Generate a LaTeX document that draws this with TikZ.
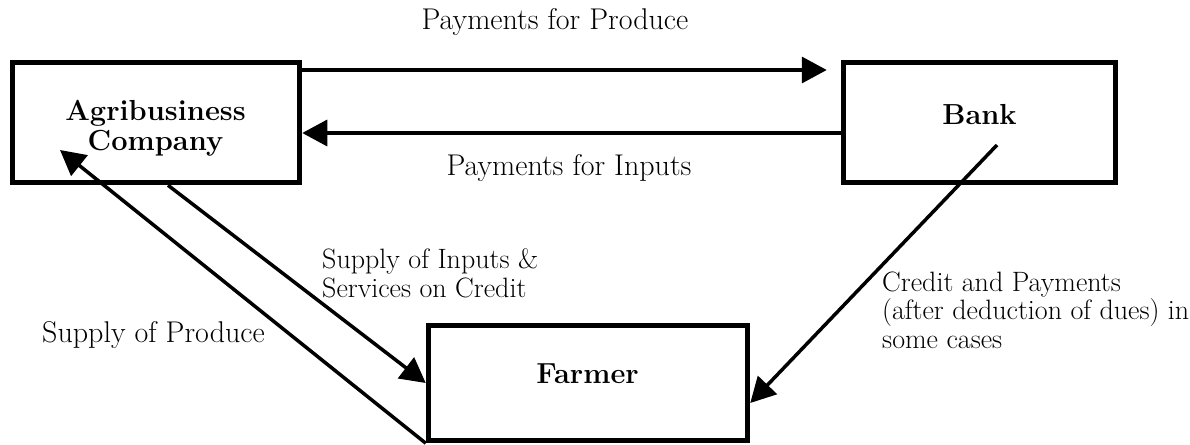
\documentclass[tikz,border=0pt]{standalone}
\usepackage{fontspec}
\usetikzlibrary{arrows.meta,calc}
\begin{document}
\begin{tikzpicture}[x=1pt,y=-1pt,
  box/.style={draw, line width=5.5pt, inner sep=0pt},
  arr/.style={line width=3.5pt, -{Triangle[length=25pt,width=26pt]}},
  lbl/.style={font=\fontsize{30}{29}\selectfont, inner sep=0pt},
  slbl/.style={font=\fontsize{28}{28.5}\selectfont, inner sep=0pt},
  boxlbl/.style={font=\fontsize{29}{30}\selectfont\bfseries, inner sep=0pt}]
\useasboundingbox (0,0) rectangle (1190,444);
% boxes
\node[box, minimum width=287pt, minimum height=120pt] (agri) at (156,122.5) {};
\node[box, minimum width=272pt, minimum height=120pt] (bank) at (979.5,122.5) {};
\node[box, minimum width=319pt, minimum height=115pt] (farmer) at (588,383) {};
% box texts (base = baseline of last line)
\node[boxlbl, anchor=base, align=center] (agrit) at (155.5,150) {Agribusiness\\Company};
\node[boxlbl, anchor=base] (bankt) at (979.5,124) {Bank};
\node[boxlbl, anchor=base] (farmert) at (587.5,383) {Farmer};
% labels
\node[lbl, anchor=base] (pprod) at (555,30) {Payments for Produce};
\node[lbl, anchor=base] (pinp) at (569,175) {Payments for Inputs};
\node[slbl, anchor=base west, align=left, font=\fontsize{28}{29}\selectfont] (sinp) at (322,297) {Supply of Inputs \&\\Services on Credit};
\node[lbl, anchor=base west] (sprod) at (42,342) {Supply of Produce};
\node[slbl, anchor=base west, align=left] (cred) at (882,348) {Credit and Payments\\(after deduction of dues) in\\some cases};
% helper coordinates
\coordinate (ytop) at (0,70);
\coordinate (ybot) at (0,133);
\coordinate (agritip) at (60,150);
\coordinate (bankstart) at (997,145);
% connectors
\draw[arr, shorten >=14pt] (agri.east |- ytop) -- (bank.west |- ytop);
\draw[arr] (bank.west |- ybot) -- (agri.east |- ybot);
\draw[arr] ([xshift=12pt]agri.south) -- (farmer.west);
\draw[arr] (farmer.south west) -- (agritip);
\draw[arr] (bankstart) -- ([yshift=-20pt]farmer.east);
\end{tikzpicture}
\end{document}
